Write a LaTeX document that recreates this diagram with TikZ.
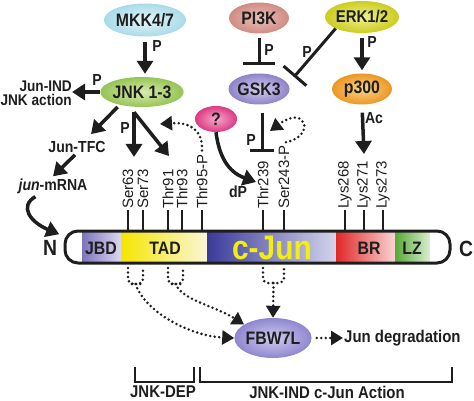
\documentclass[tikz,border=0pt]{standalone}
\usepackage{fontspec}
\setmainfont{Liberation Sans}[FakeStretch=0.88]
\newfontfamily\resfont{Liberation Sans}
\usetikzlibrary{arrows.meta,shapes.geometric,calc}
\definecolor{ink}{HTML}{1E1E1E}
\definecolor{mkkI}{HTML}{E6F6FA}\definecolor{mkkO}{HTML}{A9DBE8}
\definecolor{piI}{HTML}{ECC0B8}\definecolor{piO}{HTML}{CF8C84}
\definecolor{erkI}{HTML}{F0F090}\definecolor{erkO}{HTML}{CCCC20}
\definecolor{jnkI}{HTML}{D8ECB0}\definecolor{jnkO}{HTML}{96C455}
\definecolor{gskI}{HTML}{D4CFF0}\definecolor{gskO}{HTML}{8F82C8}
\definecolor{pI}{HTML}{FBD38A}\definecolor{pO}{HTML}{EC9722}
\definecolor{qI}{HTML}{F7A8CC}\definecolor{qO}{HTML}{DC3A82}
\definecolor{fbI}{HTML}{D0CBF0}\definecolor{fbO}{HTML}{8F87CF}
\definecolor{jbdL}{HTML}{7D74BD}\definecolor{jbdR}{HTML}{DCD8F0}
\definecolor{tadL}{HTML}{F5E600}\definecolor{tadR}{HTML}{FBF6D8}
\definecolor{cjL}{HTML}{3A3A9A}\definecolor{cjR}{HTML}{D4D4EC}
\definecolor{brL}{HTML}{E02828}\definecolor{brR}{HTML}{F8D4D4}
\definecolor{lzL}{HTML}{58A838}\definecolor{lzR}{HTML}{DCEED4}
\definecolor{cjY}{HTML}{F2EE10}
\begin{document}
\begin{tikzpicture}[x=1pt,y=-1pt,
  every node/.style={text=ink},
  blob/.style={ellipse, inner sep=0pt, font=\fontsize{18}{18}\selectfont\bfseries},
  lab/.style={inner sep=1pt, font=\fontsize{#1}{#1}\selectfont\bfseries},
  lab/.default=17,
  res/.style={inner sep=1pt, font=\resfont\fontsize{15}{15}\selectfont, anchor=west, rotate=90},
  tickln/.style={draw=ink, line width=1.6pt},
  arr/.style={draw=ink, line width=3.5pt, -{Triangle[length=13pt,width=16pt]}},
  inh/.style={draw=ink, line width=3pt, -{Bar[width=#1]}},
  inh/.default=30pt,
  dots/.style={draw=ink, line width=2.8pt, line cap=round, dash pattern=on 0pt off 4.5pt},
  darr/.style={dots, -{Triangle[length=12pt,width=14pt]}},
  brk/.style={draw=ink, line width=1.6pt}
]
\useasboundingbox (0,0) rectangle (474,401);

% ellipses
\node[blob, minimum width=74pt, minimum height=33pt, inner color=mkkI, outer color=mkkO] (mkk) at (145,20) {MKK4/7};
\node[blob, minimum width=60pt, minimum height=31pt, inner color=piI, outer color=piO] (pi3k) at (259,18) {PI3K};
\node[blob, minimum width=62pt, minimum height=32pt, inner color=erkI, outer color=erkO, font=\fontsize{17}{17}\selectfont\bfseries] (erk) at (362,17) {ERK1/2};
\node[blob, minimum width=75pt, minimum height=30pt, inner color=jnkI, outer color=jnkO] (jnk) at (142,92) {JNK 1-3};
\node[blob, minimum width=60pt, minimum height=31pt, inner color=gskI, outer color=gskO] (gsk3) at (259,89) {GSK3};
\node[blob, minimum width=60pt, minimum height=31pt, inner color=pI, outer color=pO] (p300) at (362,89) {p300};
\node[blob, minimum width=42pt, minimum height=26pt, inner color=qI, outer color=qO] (q) at (216,119) {?};
\node[blob, minimum width=60pt, minimum height=40pt, inner color=fbI, outer color=fbO] (fbw) at (273,338) {FBW7L};

% text labels
\node[align=right, anchor=east, inner sep=0pt, font=\fontsize{15.5}{14}\selectfont\bfseries] (jind) at (72,93) {Jun-IND\\JNK action};
\node[lab=16] (jtfc) at (77,147) {Jun-TFC};
\node[lab=16] (jmrna) at (53,186) {\textit{jun}-mRNA};
\node[lab=22] (N) at (50,248) {N};
\node[lab=22] (C) at (466,249) {C};
\node[lab, anchor=west] (jdeg) at (343,338) {Jun degradation};
\node[lab] (dep) at (163,392) {JNK-DEP};
\node[lab] (ind) at (327,392) {JNK-IND c-Jun Action};

% P / dP / Ac labels
\node[lab=16] (p1) at (157,46) {P};
\node[lab=16] (p2) at (97,80) {P};
\node[lab=16] (p3) at (125,128) {P};
\node[lab=16] (p4) at (269,50) {P};
\node[lab=16] (p5) at (307,52) {P};
\node[lab=16] (p6) at (372,42) {P};
\node[lab=16] (p7) at (251,140) {P};
\node[lab=16] (ac) at (374,118) {Ac};
\node[lab=16] (dp) at (238,192) {dP};

% protein bar
\shade[left color=jbdL, right color=jbdR] (82,232) rectangle (121,262);
\shade[left color=tadL, right color=tadR] (121,232) rectangle (207,262);
\shade[left color=cjL, right color=cjR] (207,232) rectangle (336,262);
\shade[left color=brL, right color=brR] (336,232) rectangle (395,262);
\shade[left color=lzL, right color=lzR] (395,232) rectangle (430,262);
\draw[ink, line width=3pt, rounded corners=13pt] (65,231) rectangle (450,263);
\node[lab=18] (jbd) at (101,248) {JBD};
\node[lab=18] (tad) at (165,248) {TAD};
\node[inner sep=0pt, font=\fontsize{34}{34}\selectfont\bfseries, text=cjY] (cjun) at (272,248) {c-Jun};
\node[lab=18] (br) at (369,248) {BR};
\node[lab=18] (lz) at (412,248) {LZ};

% residues
\foreach \n/\x/\t in {s63/128/Ser63, s73/143/Ser73, t91/168/Thr91, t93/182/Thr93, t95/202/Thr95-P, t239/263/Thr239, s243/284/Ser243-P, k268/345/Lys268, k271/364/Lys271, k273/383/Lys273}{
  \node[res] (\n) at (\x,210) {\t};
  \draw[tickln] (\x,231) -- (\n.west);
}

% solid arrows
\draw[arr, shorten <=5pt, shorten >=3pt] (mkk.south) -- (mkk.south |- jnk.north);
\draw[arr] (jnk.west) -- (jind.east |- jnk.west);
\draw[arr, shorten <=3pt] (jnk.210) -- ($(jtfc.north)+(14,-6)$);
\draw[arr] ($(jtfc.south)+(-2,1)$) -- ($(jmrna.north)+(0,-1)$);
\coordinate (ntip) at ($(N.north east)+(1,-5)$);
\draw[arr] ($(jmrna.south west)+(18,2)$) .. controls (19,206) and (30,222) .. (ntip);
\coordinate (apex) at ($(jnk.south)+(-8,5)$);
\coordinate (tipS) at (134,157);
\coordinate (tipT) at (169,156);
\draw[arr, line join=miter] (apex) -- (tipS);
\draw[arr] (apex) -- (tipT);
\coordinate (dptip) at (256,182);
\draw[arr] (q.south) .. controls (219,156) and (228,172) .. (dptip);
\draw[arr, shorten <=5pt, shorten >=3pt] (erk.south) -- (p300.north);
\coordinate (ktip) at (364,154);
\draw[arr, shorten <=8pt] (p300.south) -- (ktip);

% inhibitions
\draw[inh=32pt, shorten <=4pt] (pi3k.south) -- ($(gsk3.north)+(0,-8)$);
\coordinate (gT) at (294,77);
\draw[inh=30pt] (erk.south west) -- (gT);
\coordinate (tT) at (262,152);
\draw[inh=24pt, shorten <=8pt] (gsk3.south -| tT) -- (tT);

% dotted feedback arrows
\coordinate (t95tip) at (160,124);
\draw[darr] ($(t95.east)+(0,-3)$) .. controls (203,130) and (190,122) .. (t95tip);
\coordinate (sertip) at (270,131);
\draw[darr] ($(s243.east)+(2,-2)$) .. controls (316,136) and (306,104) .. (sertip);

% dotted arrows to FBW7L
\coordinate (u1) at (135.5,284);
\coordinate (u2) at (175.5,284);
\coordinate (u3) at (273.5,283);
\draw[dots, rounded corners=5pt] (128,268) |- (u1) -| (143,268);
\draw[dots, rounded corners=5pt] (168,268) |- (u2) -| (183,268);
\draw[dots, rounded corners=5pt] (263,268) |- (u3) -| (284,268);
\draw[darr] (u1) .. controls (145,312) and (190,336) .. (fbw.west);
\draw[darr] (u2) .. controls (182,300) and (215,306) .. (fbw.155);
\draw[darr] (u3) -- (fbw.north);
\draw[darr, shorten <=5pt] (fbw.east) -- (jdeg.west);

% brackets
\draw[brk] (135,367) |- (194,382) -- (194,367);
\draw[brk] (200,367) |- (452,382) -- (452,367);
\end{tikzpicture}
\end{document}
